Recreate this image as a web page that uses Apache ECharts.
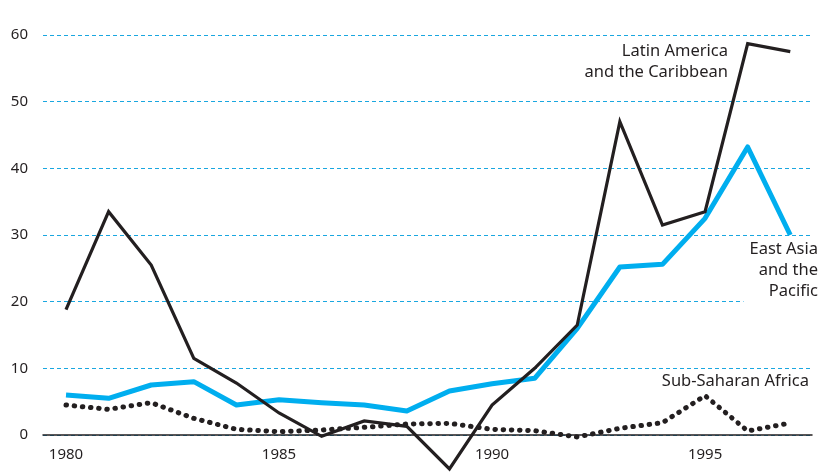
<!DOCTYPE html>
<html>
<head>
<meta charset="utf-8">
<script src="https://cdn.jsdelivr.net/npm/echarts@6/dist/echarts.min.js"></script>
<style>html,body{margin:0;padding:0;background:#fff}#c{width:820px;height:474px}</style>
</head>
<body>
<div id="c"></div>
<script>
const years = [1980,1981,1982,1983,1984,1985,1986,1987,1988,1989,1990,1991,1992,1993,1994,1995,1996,1997];
const latinAmerica = [18.8,33.5,25.5,11.5,7.8,3.3,-0.2,2.1,1.3,-5.1,4.5,10.0,16.5,47.0,31.5,33.5,58.7,57.5];
const eastAsia = [6.0,5.5,7.5,8.0,4.5,5.3,4.85,4.5,3.6,6.6,7.7,8.5,16.0,25.2,25.6,32.5,43.2,30.0];
const subSaharan = [4.5,3.85,4.85,2.5,0.85,0.5,0.75,1.15,1.65,1.75,0.85,0.65,-0.3,1.0,1.85,5.9,0.6,1.8];
const xTickLabels = [1980,1985,1990,1995];
const seriesNames = ['Latin America\nand the Caribbean','East Asia\nand the\nPacific','Sub-Saharan Africa'];

const pair = arr => years.map((y,i)=>[y,arr[i]]);
const font = '"Noto Sans", sans-serif';
const txt = '#231f20';

const chart = echarts.init(document.getElementById('c'), null, {renderer:'canvas'});
chart.setOption({
  animation:false,
  backgroundColor:'#fff',
  grid:{left:43,right:8,top:35,bottom:39,containLabel:false},
  xAxis:{
    type:'value', min:1979.46, max:1997.51,
    axisLine:{show:true,lineStyle:{color:txt,width:1.5}},
    axisTick:{show:false},
    splitLine:{show:false},
    axisLabel:{customValues:xTickLabels,color:txt,fontFamily:font,fontSize:15,margin:12,formatter:v=>String(v)}
  },
  yAxis:{
    type:'value', min:0, max:60, interval:10,
    axisLine:{show:false},
    axisTick:{show:false},
    axisLabel:{color:txt,fontFamily:font,fontSize:15,margin:15},
    splitLine:{show:true,lineStyle:{color:'#1aa7e0',type:[4,3],width:1.2}}
  },
  series:[
    {name:'Latin America',type:'line',data:pair(latinAmerica),symbol:'none',clip:false,z:3,
     lineStyle:{color:'#231f20',width:3.2,join:'miter'}},
    {name:'East Asia',type:'line',data:pair(eastAsia),symbol:'none',clip:false,z:2,
     lineStyle:{color:'#00aeef',width:5,join:'round'}},
    {name:'Sub-Saharan Africa',type:'line',data:pair(subSaharan),symbol:'none',clip:false,z:2,
     lineStyle:{color:'#231f20',width:5,type:[0.5,7.7],cap:'round',join:'round'}}
  ],
  graphic:[
    {type:'text',z:1,x:734,y:41,style:{text:seriesNames[0],fill:txt,font:'16.5px '+font,align:'right',verticalAlign:'top',lineHeight:21,backgroundColor:'#fff',padding:[0,6]}},
    {type:'text',z:1,x:824,y:239,style:{text:seriesNames[1],fill:txt,font:'16.5px '+font,align:'right',verticalAlign:'top',lineHeight:21,backgroundColor:'#fff',padding:[0,6]}},
    {type:'text',z:1,x:815,y:371,style:{text:seriesNames[2],fill:txt,font:'16.5px '+font,align:'right',verticalAlign:'top',lineHeight:21,backgroundColor:'#fff',padding:[0,6]}}
  ]
});
</script>
</body>
</html>
